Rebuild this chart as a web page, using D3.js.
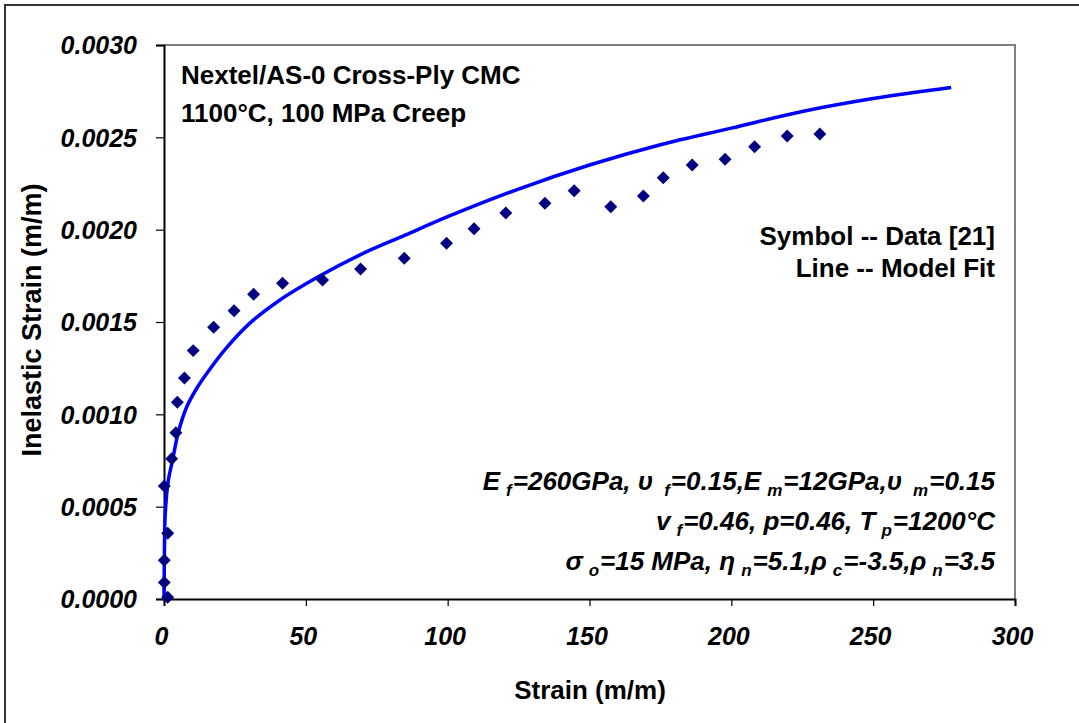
<!DOCTYPE html>
<html>
<head>
<meta charset="utf-8">
<script src="https://cdn.jsdelivr.net/npm/d3@7"></script>
<style>
  html, body { margin: 0; padding: 0; background: #fff; }
  svg { display: block; font-family: "Liberation Sans", Arial, sans-serif; }
</style>
</head>
<body>
<svg id="chart" width="1079" height="723"></svg>
<script>
// ---- data ----
const dataStrain = [1.3, 0.1, 0.1, 1.3, 0.1, 2.7, 4.2, 4.7, 7.2, 10.3, 17.5, 24.7, 31.6, 41.8, 55.9, 69.3, 84.7, 99.6, 109.3, 120.5, 134.3, 144.6, 157.5, 169, 176, 186.2, 197.8, 208.2, 219.7, 231.2];
const dataInelastic = [0.00001, 0.00009, 0.00021, 0.000356, 0.000612, 0.00076, 0.0009, 0.001065, 0.001197, 0.001345, 0.001471, 0.001561, 0.00165, 0.00171, 0.001727, 0.001787, 0.001845, 0.001926, 0.002005, 0.00209, 0.002143, 0.002211, 0.002124, 0.002182, 0.002281, 0.00235, 0.002381, 0.002449, 0.002507, 0.002518];

const modelStrain = [0, 0.05, 0.15, 0.4, 1.5, 3, 5, 8, 11.5, 15, 22, 30, 40, 55, 70, 85, 100, 125, 150, 175, 200, 225, 250, 277.5];
const modelInelastic = [0, 0.0001, 0.00025, 0.00045, 0.00064, 0.00075, 0.0009, 0.00104, 0.00114, 0.00122, 0.00136, 0.00149, 0.00161, 0.00175, 0.00187, 0.00197, 0.00207, 0.00222, 0.00235, 0.00246, 0.00255, 0.00264, 0.00271, 0.00277];

const xTicks = [0, 50, 100, 150, 200, 250, 300];
const yTicks = [0, 0.0005, 0.001, 0.0015, 0.002, 0.0025, 0.003];

const titleLines = ["Nextel/AS-0 Cross-Ply CMC", "1100°C, 100 MPa Creep"];
const legendLines = ["Symbol -- Data [21]", "Line -- Model Fit"];
// parameter lines: [text, isSubscript]
const paramLines = [
  [["E", 0], ["f", 1], ["=260GPa, υ", 0], ["f", 1], ["=0.15,E", 0], ["m", 1], ["=12GPa,υ", 0], ["m", 1], ["=0.15", 0]],
  [["v", 0], ["f", 1], ["=0.46, p=0.46, T", 0], ["p", 1], ["=1200°C", 0]],
  [["σ", 0], ["o", 1], ["=15 MPa, η", 0], ["n", 1], ["=5.1,ρ", 0], ["c", 1], ["=-3.5,ρ", 0], ["n", 1], ["=3.5", 0]]
];

// ---- layout ----
const svg = d3.select("#chart");
const L = 164, R = 1015, T = 45, B = 599;
const FONT = "'Liberation Sans', Arial, sans-serif";

svg.append("rect").attr("x", 5).attr("y", 5).attr("width", 1100).attr("height", 800)
  .attr("fill", "#fff").attr("stroke", "#333").attr("stroke-width", 2);

const x = d3.scaleLinear().domain([0, 300]).range([L, R]);
const y = d3.scaleLinear().domain([0, 0.003]).range([B, T]);

// plot frame (top/right gray)
svg.append("path")
  .attr("d", `M${L},${T}H${R}V${B}`)
  .attr("fill", "none").attr("stroke", "#808080").attr("stroke-width", 2);

// axes
const xAxis = d3.axisBottom(x).tickValues(xTicks).tickSize(7).tickFormat(d3.format("d"));
const yAxis = d3.axisLeft(y).tickValues(yTicks).tickSize(8).tickFormat(d3.format(".4f"));

const gx = svg.append("g").attr("transform", `translate(0,${B})`).call(xAxis);
const gy = svg.append("g").attr("transform", `translate(${L},0)`).call(yAxis);
[gx, gy].forEach(g => {
  g.select(".domain").attr("stroke", "#000").attr("stroke-width", 2);
  g.selectAll(".tick line").attr("stroke", "#000").attr("stroke-width", 1.2);
  g.selectAll(".tick text").attr("fill", "#000")
    .style("font-family", FONT)
    .style("font-weight", "bold").style("font-style", "italic").style("font-size", "25px");
});
gx.selectAll(".tick text").attr("dy", "0").attr("y", 46).attr("dx", -3);
gy.selectAll(".tick text").attr("x", -27).attr("dy", "0.35em");

// axis titles
svg.append("text").attr("x", 590).attr("y", 699).attr("text-anchor", "middle")
  .style("font-weight", "bold").style("font-size", "26px").text("Strain (m/m)");
svg.append("text").attr("transform", `translate(41,${(T + B) / 2 - 2}) rotate(-90)`).attr("text-anchor", "middle")
  .style("font-weight", "bold").style("font-size", "27px").text("Inelastic Strain (m/m)");

// model line
const line = d3.line().x((d, i) => x(modelStrain[i])).y((d, i) => y(modelInelastic[i]))
  .curve(d3.curveCatmullRom.alpha(0.5));
svg.append("path").datum(modelStrain).attr("d", line)
  .attr("fill", "none").attr("stroke", "#0000ff").attr("stroke-width", 3.5);

// data symbols (diamonds)
const diamond = d3.symbol().type(d3.symbolSquare).size(84);
svg.append("g").selectAll("path").data(dataStrain).join("path")
  .attr("d", diamond)
  .attr("transform", (d, i) => `translate(${x(d)},${y(dataInelastic[i])}) rotate(45)`)
  .attr("fill", "#000080");

// title
svg.append("g").selectAll("text").data(titleLines).join("text")
  .attr("x", 181).attr("y", (d, i) => 84 + i * 38)
  .style("font-weight", "bold").style("font-size", "26px").text(d => d);

// legend notes
svg.append("g").selectAll("text").data(legendLines).join("text")
  .attr("x", 995).attr("y", (d, i) => 245 + i * 32).attr("text-anchor", "end")
  .style("font-weight", "bold").style("font-size", "26px").text(d => d);

// parameters
const pg = svg.append("g");
paramLines.forEach((parts, i) => {
  const t = pg.append("text").attr("x", 995).attr("y", 490 + i * 40).attr("text-anchor", "end")
    .style("font-weight", "bold").style("font-style", "italic").style("font-size", "26px");
  let down = false;
  let prev = "";
  parts.forEach(([s, sub]) => {
    if (sub) {
      const gap = prev.endsWith("υ") ? 11 : 6;
      t.append("tspan").attr("dx", gap).attr("dy", 6).style("font-size", "17px").text(s);
      down = true;
    } else {
      t.append("tspan").attr("dy", down ? -6 : 0).attr("dx", down ? 1 : 0).text(s);
      down = false;
    }
    prev = s;
  });
});
</script>
</body>
</html>
